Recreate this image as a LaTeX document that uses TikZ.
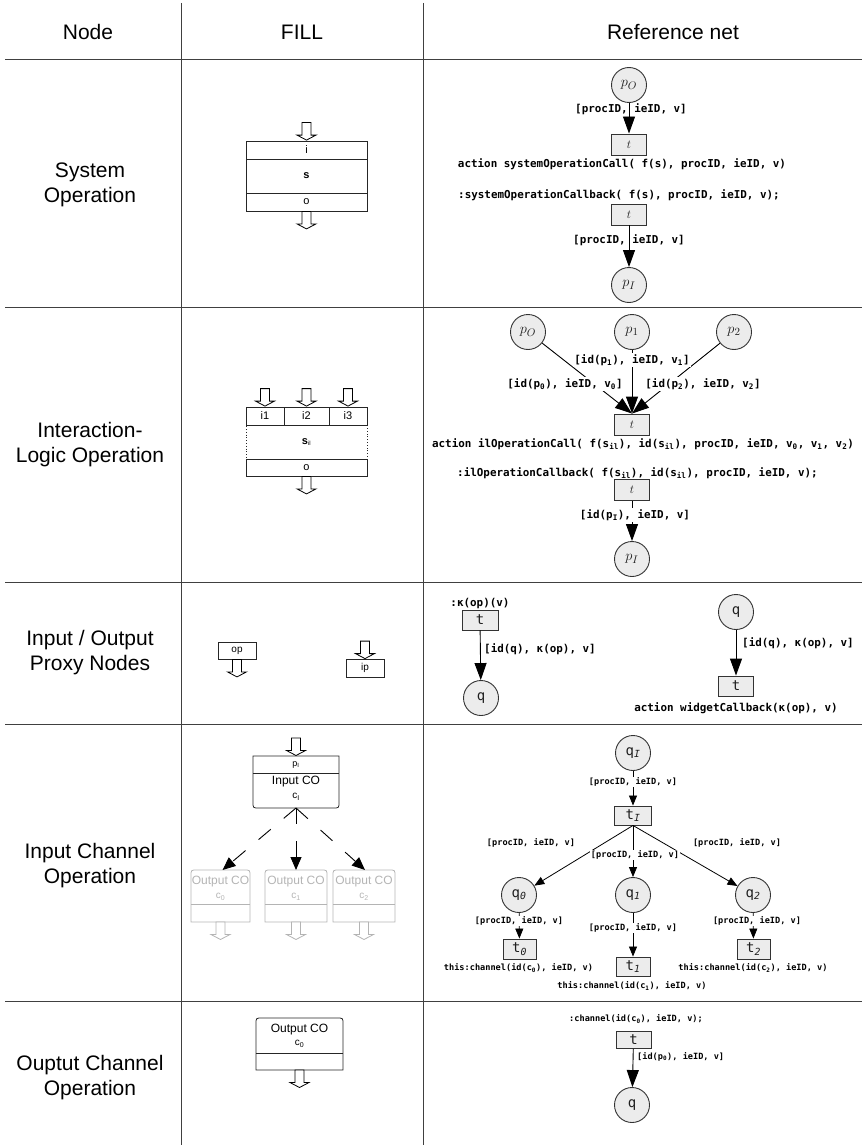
\documentclass[tikz,border=0pt]{standalone}
\usepackage{fontspec}
\setmainfont{Liberation Sans}
\newfontfamily\codefont{DejaVu Sans Mono}
\usetikzlibrary{arrows.meta}

\definecolor{netfill}{HTML}{ECECEC}
\definecolor{netline}{HTML}{333333}
\definecolor{ghost}{HTML}{B4B4B4}

\tikzset{
  grid/.style={draw=black!75, line width=0.8pt},
  head/.style={font=\fontsize{21}{25}\selectfont, align=center, inner sep=0pt},
  cell/.style={draw=black!85, line width=0.8pt, inner sep=0pt, font=\fontsize{11}{13}\selectfont},
  dotcell/.style={draw=black!85, line width=0.8pt, dotted, inner sep=0pt, font=\fontsize{11}{13}\selectfont},
  cobox/.style={draw=black!85, line width=0.8pt},
  ghostbox/.style={draw=ghost, line width=0.8pt},
  frame/.style={inner sep=0pt, outer sep=0pt},
  cotext/.style={font=\fontsize{12}{14}\selectfont, inner sep=0pt},
  cosub/.style={font=\fontsize{10}{12}\selectfont, inner sep=0pt},
  hollow/.pic={\draw[line width=0.8pt, fill=white, pic actions]
     (-4.5,0) -- (-4.5,12.5) -- (-9.5,12.5) -- (0,17.5) -- (9.5,12.5) -- (4.5,12.5) -- (4.5,0) -- cycle;},
  place/.style={circle, draw=netline, line width=0.9pt, fill=netfill, minimum size=35pt, inner sep=0pt,
     font=\fontsize{15}{15}\selectfont, text=black!88},
  trans/.style={rectangle, draw=netline, line width=0.9pt, fill=netfill, minimum width=35pt, minimum height=21pt,
     inner sep=0pt, font=\fontsize{13}{13}\selectfont, text=black!88},
  monolbl/.style={font=\codefont\fontsize{14}{14}\selectfont, text=black!88},
  arcbig/.style={-{Triangle[length=17pt,width=12pt]}, line width=0.9pt, draw=black},
  arcsmall/.style={-{Triangle[length=10pt,width=8pt]}, line width=0.8pt, draw=black},
  dasharrow/.style={-{Triangle[length=13pt,width=11pt]}, line width=0.9pt, dash pattern=on 16pt off 17pt},
  code/.style={font=\codefont\bfseries\fontsize{10.9}{12}\selectfont, inner sep=0pt},
  codesm/.style={font=\codefont\bfseries\fontsize{8.6}{10}\selectfont, inner sep=0pt},
  lblbg/.style={fill=white, inner sep=1pt},
}

% outline of a channel-operation box: #1 style, #2 left, #3 right, #4 top, #5 bottom, #6 divider
\newcommand\outcoshape[6]{%
  \draw[#1] (#2,#5) -- (#2,{#4+6}) .. controls (#2,#4) .. ({#2+6},#4) -- ({#3-6},#4)
     .. controls (#3,#4) .. (#3,{#4+6}) -- (#3,#5) -- cycle;
  \draw[#1] (#2,#6) -- (#3,#6);}

\begin{document}
\begin{tikzpicture}[x=1pt, y=-1pt]
\useasboundingbox (0,0) rectangle (862,1145);

% ---------- table grid ----------
\draw[grid] (181,3) -- (181,1145);
\draw[grid] (423,3) -- (423,1145);
\foreach \yy in {59,307,582,724,1001} \draw[grid] (5,\yy) -- (862,\yy);

% ---------- headings ----------
\node[head] (h-node) at (88,32) {Node};
\node[head] (h-fill) at (302,32) {FILL};
\node[head] (h-ref) at (673,32) {Reference net};

\node[head] (l-sys) at (90,185) {System\\Operation};
\node[head] (l-il) at (90,445) {Interaction-\\Logic Operation};
\node[head] (l-proxy) at (90,653) {Input / Output\\Proxy Nodes};
\node[head] (l-inch) at (90,866) {Input Channel\\Operation};
\node[head] (l-outch) at (90,1078) {Ouptut Channel\\Operation};

% ---------- FILL: system operation ----------
\node[cell, minimum width=121pt, minimum height=18pt] (so-in) at (306.5,150) {i};
\node[cell, minimum width=121pt, minimum height=34pt] (so-s) at (306.5,176) {\bfseries s};
\node[cell, minimum width=121pt, minimum height=18pt] (so-out) at (306.5,202) {o};
\pic at ([yshift=18pt]so-in.north) {hollow};
\pic at (so-out.south) {hollow};

% ---------- FILL: interaction-logic operation ----------
\node[dotcell, minimum width=121pt, minimum height=34pt] (il-s) at (306.5,442)
  {\textbf{s}\textsubscript{\fontsize{6}{6}\selectfont il}};
\node[cell, minimum width=38pt, minimum height=18pt] (il-i1) at (265,416) {i1};
\node[cell, minimum width=45pt, minimum height=18pt] (il-i2) at (306.5,416) {i2};
\node[cell, minimum width=38pt, minimum height=18pt] (il-i3) at (348,416) {i3};
\node[cell, minimum width=121pt, minimum height=17pt] (il-out) at (306.5,467.5) {o};
\pic at ([yshift=18pt]il-i1.north) {hollow};
\pic at ([yshift=18pt]il-i2.north) {hollow};
\pic at ([yshift=18pt]il-i3.north) {hollow};
\pic at (il-out.south) {hollow};

% ---------- FILL: proxy nodes ----------
\node[cell, minimum width=38pt, minimum height=17pt, font=\fontsize{10}{12}\selectfont] (px-op) at (237,650.5) {op};
\pic at (px-op.south) {hollow};
\node[cell, minimum width=38pt, minimum height=18pt, font=\fontsize{10}{12}\selectfont] (px-ip) at (365,668) {ip};
\pic at ([yshift=17.5pt]px-ip.north) {hollow};

% ---------- FILL: input channel operation ----------
\node[frame, minimum width=86pt, minimum height=52pt] (ic) at (296,782) {};
\draw[cobox] (253,756) -- (253,802) .. controls (253,808) .. (259,808) -- (333,808)
   .. controls (339,808) .. (339,802) -- (339,756) -- cycle;
\draw[cobox] (253,773) -- (339,773);
\node[cosub, font=\fontsize{9}{10}\selectfont] (ic-p) at (296,765) {p\textsubscript{I}};
\node[cotext] (ic-name) at (296,782) {Input CO};
\node[cosub] (ic-c) at (296,797) {c\textsubscript{I}};
\pic at ([yshift=18pt]ic.north) {hollow};

\node[frame, minimum width=59pt, minimum height=52pt] (oc0) at (220.5,896) {};
\node[frame, minimum width=62pt, minimum height=52pt] (oc1) at (296,896) {};
\node[frame, minimum width=62pt, minimum height=52pt] (oc2) at (364,896) {};
\outcoshape{ghostbox}{191}{250}{870}{922}{904}
\outcoshape{ghostbox}{265}{327}{870}{922}{904}
\outcoshape{ghostbox}{333}{395}{870}{922}{904}
\foreach \n/\k in {oc0/0, oc1/1, oc2/2}{
  \node[cotext, text=ghost] (\n-name) at ([yshift=-12pt]\n.north) {Output CO};
  \node[cosub, text=ghost] (\n-c) at ([yshift=-27pt]\n.north) {c\textsubscript{\k}};
  \pic[draw=ghost] at (\n.south) {hollow};
}
\draw[dasharrow] (ic.south) -- ([xshift=2pt]oc0.north);
\draw[dasharrow] (ic.south) -- (oc1.north);
\draw[dasharrow] (ic.south) -- ([xshift=1pt]oc2.north);

% ---------- FILL: output channel operation ----------
\node[frame, minimum width=87pt, minimum height=52pt] (oc) at (299.5,1044) {};
\outcoshape{cobox}{256}{343}{1018}{1070}{1053}
\node[cotext] (oc-name) at (299.5,1030) {Output CO};
\node[cosub] (oc-c) at (299.5,1044) {c\textsubscript{0}};
\pic at (oc.south) {hollow};

% ---------- net: system operation ----------
\node[place] (so-pO) at (629,85) {$p_O$};
\node[trans] (so-t1) at (629,144.5) {$t$};
\node[trans] (so-t2) at (629,214.5) {$t$};
\node[place] (so-pI) at (629,285) {$p_I$};
\draw[arcbig] (so-pO) -- (so-t1);
\draw[arcbig] (so-t2) -- (so-pI);
\node[code] (so-a1) at (631,109) {[procID, ieID, v]};
\node[code] (so-act) at (622,164) {action systemOperationCall( f(s), procID, ieID, v)};
\node[code] (so-cb) at (619,195) {:systemOperationCallback( f(s), procID, ieID, v);};
\node[code] (so-a2) at (629,240) {[procID, ieID, v]};

% ---------- net: interaction-logic operation ----------
\node[place] (il-p0) at (528,332) {$p_O$};
\node[place] (il-p1) at (632,332) {$p_1$};
\node[place] (il-p2) at (734,332) {$p_2$};
\node[trans] (il-t1) at (632,424.5) {$t$};
\node[trans] (il-t2) at (632,490) {$t$};
\node[place] (il-pI) at (632,559) {$p_I$};
\draw[arcbig] (il-p0) -- (il-t1.north);
\draw[arcbig] (il-p1) -- (il-t1.north);
\draw[arcbig] (il-p2) -- (il-t1.north);
\draw[arcbig] (il-t2) -- (il-pI);
\node[code, lblbg] (il-a1) at (632,360) {[id(p\textsubscript{1}), ieID, v\textsubscript{1}]};
\node[code, lblbg] (il-a0) at (565,384) {[id(p\textsubscript{0}), ieID, v\textsubscript{0}]};
\node[code, lblbg] (il-a2) at (703,384) {[id(p\textsubscript{2}), ieID, v\textsubscript{2}]};
\node[code] (il-act) at (643,444) {action ilOperationCall( f(s\textsubscript{il}), id(s\textsubscript{il}), procID, ieID, v\textsubscript{0}, v\textsubscript{1}, v\textsubscript{2})};
\node[code] (il-cb) at (637.5,473) {:ilOperationCallback( f(s\textsubscript{il}), id(s\textsubscript{il}), procID, ieID, v);};
\node[code, lblbg] (il-a3) at (635,515) {[id(p\textsubscript{I}), ieID, v]};

% ---------- net: proxy nodes ----------
\node[code] (px-cb) at (480,603) {:κ(op)(v)};
\node[trans, monolbl, minimum width=36pt, minimum height=20pt] (px-t1) at (480,620) {t};
\node[place, monolbl] (px-q1) at (481,698) {q};
\draw[arcbig] (px-t1) -- (px-q1);
\node[code, anchor=west] (px-a1) at (484,649) {[id(q), κ(op), v]};

\node[place, monolbl] (px-q2) at (736,612) {q};
\node[trans, monolbl, minimum height=20pt] (px-t2) at (736,686) {t};
\draw[arcbig] (px-q2) -- (px-t2);
\node[code, anchor=west] (px-a2) at (742,643) {[id(q), κ(op), v]};
\node[code] (px-act) at (736,708) {action widgetCallback(κ(op), v)};

% ---------- net: input channel operation ----------
\node[place, monolbl] (ic-qI) at (633,753) {q\textsubscript{\itshape I}};
\node[trans, monolbl, minimum width=37pt, minimum height=19pt] (ic-tI) at (633,815.5) {t\textsubscript{\itshape I}};
\node[place, monolbl] (ic-q0) at (519,895) {q\textsubscript{\itshape 0}};
\node[place, monolbl] (ic-q1) at (633,895) {q\textsubscript{\itshape 1}};
\node[place, monolbl] (ic-q2) at (753,895) {q\textsubscript{\itshape 2}};
\node[trans, monolbl, minimum width=33pt, minimum height=20pt] (ic-t0) at (519.5,949) {t\textsubscript{\itshape 0}};
\node[trans, monolbl, minimum width=34pt, minimum height=19pt] (ic-t1) at (633,966.5) {t\textsubscript{\itshape 1}};
\node[trans, monolbl, minimum width=33pt, minimum height=20pt] (ic-t2) at (753.5,949) {t\textsubscript{\itshape 2}};
\draw[arcsmall] (ic-qI) -- (ic-tI);
\draw[arcsmall] (ic-tI.south) -- (ic-q0);
\draw[arcsmall] (ic-tI.south) -- (ic-q1);
\draw[arcsmall] (ic-tI.south) -- (ic-q2);
\draw[arcsmall] (ic-q0) -- (ic-t0);
\draw[arcsmall] (ic-q1) -- (ic-t1);
\draw[arcsmall] (ic-q2) -- (ic-t2);
\node[codesm, lblbg] (ic-aI) at (633,782) {[procID, ieID, v]};
\node[codesm, lblbg] (ic-b0) at (531,843) {[procID, ieID, v]};
\node[codesm, lblbg] (ic-b1) at (635,855) {[procID, ieID, v]};
\node[codesm, lblbg] (ic-b2) at (737,843) {[procID, ieID, v]};
\node[codesm, lblbg] (ic-c0) at (519,921) {[procID, ieID, v]};
\node[codesm, lblbg] (ic-c1) at (633,928) {[procID, ieID, v]};
\node[codesm, lblbg] (ic-c2) at (757,921) {[procID, ieID, v]};
\node[codesm] (ic-s0) at (518.5,968) {this:channel(id(c\textsubscript{0}), ieID, v)};
\node[codesm] (ic-s1) at (632,986) {this:channel(id(c\textsubscript{1}), ieID, v)};
\node[codesm] (ic-s2) at (753,968) {this:channel(id(c\textsubscript{2}), ieID, v)};

% ---------- net: output channel operation ----------
\node[codesm] (oc-cb) at (636,1019) {:channel(id(c\textsubscript{0}), ieID, v);};
\node[trans, monolbl, minimum height=17pt] (oc-t) at (633.5,1040) {t};
\node[place, monolbl] (oc-q) at (632,1105) {q};
\draw[arcbig] (oc-t) -- (oc-q);
\node[codesm, anchor=west] (oc-a) at (637,1057) {[id(p\textsubscript{0}), ieID, v]};

\end{tikzpicture}
\end{document}
